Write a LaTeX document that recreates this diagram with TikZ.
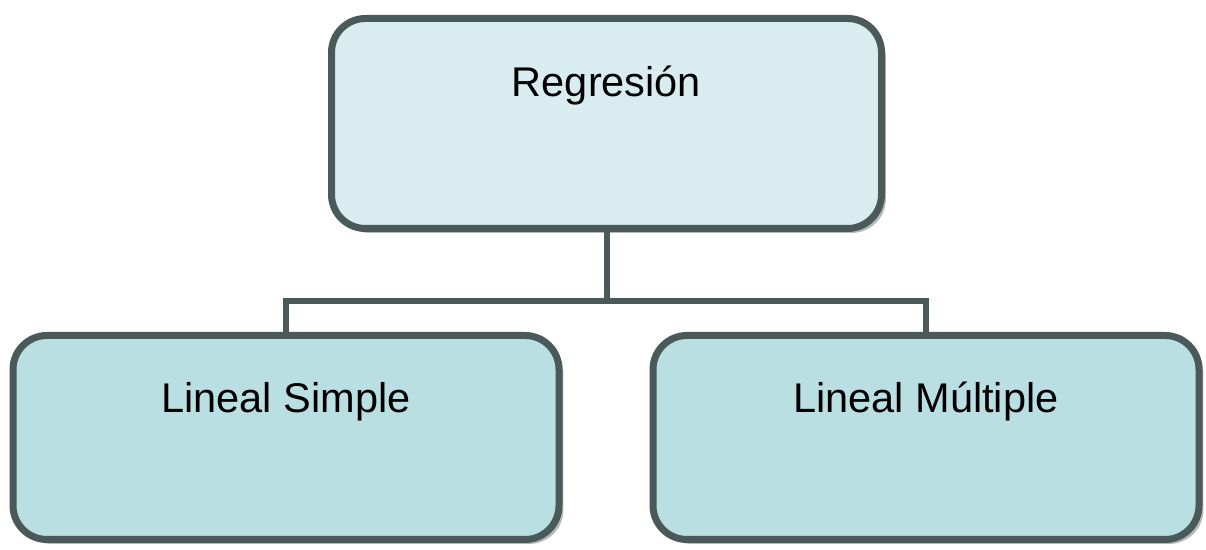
\documentclass[tikz,border=0pt]{standalone}
\usepackage{fontspec}
\setmainfont{Liberation Sans}
\usepackage{tikz}
\usetikzlibrary{shapes,shadows,positioning}
\definecolor{edgegray}{RGB}{74,89,89}
\definecolor{topfill}{RGB}{217,236,239}
\definecolor{leaffill}{RGB}{186,223,227}

\begin{document}
\begin{tikzpicture}
  [
    x=0.5pt, y=-0.5pt,
    Box/.style={rectangle, rounded corners=17pt, draw=edgegray, line width=3.5pt, inner sep=0pt,
      text height=39pt, font=\fontsize{20.75pt}{24pt}\selectfont,
      drop shadow={shadow xshift=2.2pt, shadow yshift=-2.2pt, fill=black!28, opacity=1}},
    Top/.style={Box, fill=topfill, minimum width=275pt, text depth=66pt},
    Leaf/.style={Box, fill=leaffill, minimum width=273pt, text height=38.75pt, text depth=63.25pt},
    Link/.style={draw=edgegray, line width=3pt}
  ]
  \useasboundingbox (0,0) rectangle (1206,550);
  % Nodes
  \node[Top] (reg) at (606.5, 123.5) {Regresión};
  \node[Leaf] (simple) at (286, 437.5) {Lineal Simple};
  \node[Leaf] (multi) at (926, 437.5) {Lineal Múltiple};
  \coordinate (split) at (606.5, 301);
  % Lines
  \path [Link] (reg.south) -- (split) -| (simple.north);
  \path [Link] (split) -| (multi.north);
\end{tikzpicture}
\end{document}
